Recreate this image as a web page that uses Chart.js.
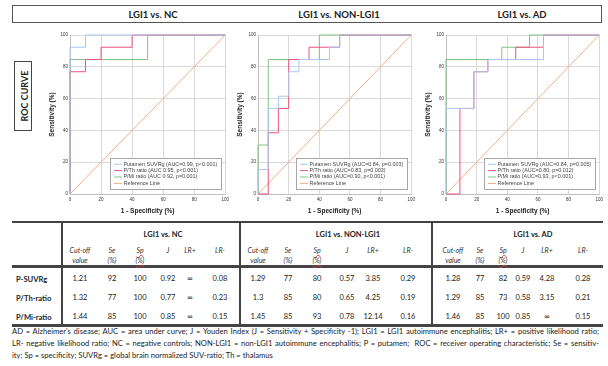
<!DOCTYPE html>
<html>
<head>
<meta charset="utf-8">
<script src="https://cdn.jsdelivr.net/npm/chart.js@4.4.1/dist/chart.umd.min.js"></script>
<style>
  html, body { margin: 0; padding: 0; background: #fff; }
  body { width: 608px; height: 366px; position: relative; overflow: hidden;
         font-family: Lato, "Liberation Sans", sans-serif; color: #222; }
  .abs { position: absolute; white-space: nowrap; }
  .head-bar { left: 12px; top: 5px; width: 588px; height: 16px; border: 1.5px solid #555; }
  .head { top: 14px; font-weight: bold; font-size: 9.5px; transform: translate(-50%, -50%); }
  .roc-box { left: 14px; top: 61px; width: 16px; height: 68px; border: 1.5px solid #444; }
  .roc-text { left: 23.5px; top: 96px; font-weight: bold; font-size: 9px;
              transform: translate(-50%, -50%) rotate(-90deg); }
  canvas.roc { position: absolute; top: 28px; }
  .cell { transform: translate(-50%, -50%); font-size: 7.5px; line-height: 1; }
  .grp { font-weight: bold; }
  .sub { font-style: italic; color: #333; font-size: 7px; }
  .wavy { text-decoration: underline wavy #d04040; text-decoration-thickness: 0.5px; }
  .rowlab { font-weight: bold; font-size: 7.6px; transform: translateY(-50%); left: 16px; }
  .hline { background: #444; left: 12px; width: 591px; }
  .vline { background: #444; width: 1.5px; top: 222px; height: 104px; }
  .foot { left: 12px; width: 587px; font-size: 7.6px; line-height: 1; color: #222;
          text-align: justify; text-align-last: justify; }
  .foot.last { text-align: left; text-align-last: left; }
</style>
</head>
<body>
<div class="abs head-bar"></div>
<div class="abs head" style="left:153px">LGI1 vs. NC</div>
<div class="abs head" style="left:339px">LGI1 vs. NON-LGI1</div>
<div class="abs head" style="left:522px">LGI1 vs. AD</div>
<div class="abs roc-box"></div>
<div class="abs roc-text">ROC CURVE</div>

<canvas class="roc" id="rocNc" width="186" height="190" style="left:46px"></canvas>
<canvas class="roc" id="rocNon" width="184" height="190" style="left:234px"></canvas>
<canvas class="roc" id="rocAd" width="184" height="190" style="left:422px"></canvas>

<div id="table"></div>

<div class="abs foot" style="top:328px">AD = Alzheimer's disease; AUC = area under curve; J = Youden Index (J = Sensitivity + Specificity -1); LGI1 = LGI1 autoimmune encephalitis; LR+ = positive likelihood ratio;</div>
<div class="abs foot" style="top:340px">LR- negative likelihood ratio; NC = negative controls; NON-LGI1 = non-LGI1 autoimmune encephalitis; P = putamen;&nbsp; ROC = receiver operating characteristic; Se = sensitiv-</div>
<div class="abs foot last" style="top:352px">ity; Sp = specificity; SUVRg = global brain normalized SUV-ratio; Th = thalamus</div>

<script>
// ROC operating points [1 - specificity %, sensitivity %], drawn as steps
const ncSuvr  = [[0, 0], [0, 92.3], [10, 100], [100, 100]];
const ncPth   = [[0, 0], [0, 76.9], [10, 84.6], [20, 92.3], [40, 100], [100, 100]];
const ncPmi   = [[0, 0], [0, 84.6], [50, 100], [100, 100]];
const nonSuvr = [[0, 0], [0, 15.4], [6.7, 53.8], [13.3, 61.5], [20, 76.9], [26.7, 84.6], [46.7, 92.3], [53.3, 100], [100, 100]];
const nonPth  = [[0, 0], [6.7, 38.5], [13.3, 53.8], [20, 84.6], [33.3, 92.3], [53.3, 100], [100, 100]];
const nonPmi  = [[0, 0], [0, 30.8], [6.7, 84.6], [40, 100], [100, 100]];
const adSuvr  = [[0, 0], [0, 53.8], [18.2, 76.9], [27.3, 84.6], [63.6, 100], [100, 100]];
const adPth   = [[0, 0], [9.1, 53.8], [18.2, 76.9], [27.3, 84.6], [45.5, 92.3], [63.6, 100], [100, 100]];
const adPmi   = [[0, 0], [0, 84.6], [36.4, 92.3], [54.5, 100], [100, 100]];
const refLine = [[0, 0], [100, 100]];
const axisTicks = [0, 20, 40, 60, 80, 100];

const ncLabels  = ["Putamen SUVRg (AUC=0.99, p<0.001)", "P/Th ratio (AUC 0.95, p<0.001)", "P/Mi ratio (AUC 0.92, p=0.001)"];
const nonLabels = ["Putamen SUVRg (AUC=0.84, p=0.003)", "P/Th ratio (AUC=0.83, p=0.003)", "P/Mi ratio (AUC=0.90, p<0.001)"];
const adLabels  = ["Putamen SUVRg (AUC=0.84, p=0.005)", "P/Th ratio (AUC=0.80, p=0.012)", "P/Mi ratio (AUC=0.93, p<0.001)"];

// Table values
const rowLabels = ["P-SUVRg", "P/Th-ratio", "P/Mi-ratio"];
const groupTitles = ["LGI1 vs. NC", "LGI1 vs. NON-LGI1", "LGI1 vs. AD"];
const ncCutoff  = ["1.21", "1.32", "1.44"];
const ncSe      = ["92", "77", "85"];
const ncSp      = ["100", "100", "100"];
const ncJ       = ["0.92", "0.77", "0.85"];
const ncLrPos   = ["∞", "∞", "∞"];
const ncLrNeg   = ["0.08", "0.23", "0.15"];
const nonCutoff = ["1.29", "1.3", "1.45"];
const nonSe     = ["77", "85", "85"];
const nonSp     = ["80", "80", "93"];
const nonJ      = ["0.57", "0.65", "0.78"];
const nonLrPos  = ["3.85", "4.25", "12.14"];
const nonLrNeg  = ["0.29", "0.19", "0.16"];
const adCutoff  = ["1.28", "1.29", "1.46"];
const adSe      = ["77", "85", "85"];
const adSp      = ["82", "73", "100"];
const adJ       = ["0.59", "0.58", "0.85"];
const adLrPos   = ["4.28", "3.15", "∞"];
const adLrNeg   = ["0.28", "0.21", "0.15"];

const lineColors = ["#a8c6ee", "#e8557d", "#84c384"];
const refColor = "#f5ad82";

// legend box drawn inside the plot, bottom right
const insideLegend = {
  id: "insideLegend",
  afterDatasetsDraw(chart) {
    const { ctx, chartArea } = chart;
    const items = chart.data.datasets;
    ctx.save();
    ctx.font = '5.4px "Liberation Sans", Arial, sans-serif';
    const textW = Math.max(...items.map(d => ctx.measureText(d.label).width));
    const rowH = 6.4;
    const w = Math.round(textW + 17), h = Math.round(rowH * items.length + 5);
    const x = Math.round(chartArea.right - 4 - w), y = Math.round(chartArea.bottom - 5 - h);
    ctx.fillStyle = "#fff";
    ctx.fillRect(x, y, w, h);
    ctx.strokeStyle = "#a6a6a6";
    ctx.lineWidth = 1;
    ctx.strokeRect(x + 0.5, y + 0.5, w, h);
    items.forEach((d, i) => {
      const cy = y + 3 + rowH * (i + 0.5);
      ctx.strokeStyle = d.borderColor;
      ctx.beginPath();
      ctx.moveTo(x + 4, cy);
      ctx.lineTo(x + 12, cy);
      ctx.stroke();
      ctx.fillStyle = "#444";
      ctx.textBaseline = "middle";
      ctx.fillText(d.label, x + 13.5, cy);
    });
    ctx.restore();
  }
};

function axis(titleText) {
  return {
    type: "linear",
    min: 0,
    max: 100,
    afterBuildTicks: s => { s.ticks = axisTicks.map(v => ({ value: v })); },
    grid: { color: "#d9d9d9", drawTicks: false },
    border: { color: "#bfbfbf" },
    ticks: { font: { size: 4.5, family: "Liberation Sans" }, color: "#333", padding: 2 },
    title: { display: true, text: titleText, color: "#222",
             font: { size: 6.5, weight: "bold", family: "Liberation Sans" },
             padding: { top: 2, bottom: 3 } }
  };
}

function makeRoc(id, curves, labels) {
  // vertical rise happens at the new x: go across first, then up
  const datasets = curves.map((pts, i) => ({
    label: labels[i],
    data: pts.map(p => ({ x: p[0], y: p[1] })),
    borderColor: lineColors[i],
    borderWidth: 1,
    showLine: true,
    stepped: "before",
    pointRadius: 0,
    clip: 2
  }));
  datasets.push({
    label: "Reference Line",
    data: refLine.map(p => ({ x: p[0], y: p[1] })),
    borderColor: refColor,
    borderWidth: 1,
    showLine: true,
    pointRadius: 0
  });

  const xAxis = axis("1 - Specificity (%)");
  xAxis.afterFit = s => { s.height = 24; };
  xAxis.ticks.padding = 3;
  const yAxis = axis("Sensitivity (%)");
  yAxis.afterFit = s => { s.width = 24; };

  new Chart(document.getElementById(id), {
    type: "scatter",
    data: { datasets },
    options: {
      responsive: false,
      animation: false,
      events: [],
      layout: { padding: { top: 7, right: 3, left: 0, bottom: 0 } },
      plugins: { legend: { display: false }, tooltip: { enabled: false } },
      scales: { x: xAxis, y: yAxis }
    },
    plugins: [insideLegend]
  });
}

makeRoc("rocNc", [ncSuvr, ncPth, ncPmi], ncLabels);
makeRoc("rocNon", [nonSuvr, nonPth, nonPmi], nonLabels);
makeRoc("rocAd", [adSuvr, adPth, adPmi], adLabels);

// table
const table = document.getElementById("table");
function put(cls, text, x, y, html) {
  const d = document.createElement("div");
  d.className = "abs " + cls;
  d.style.left = x + "px";
  d.style.top = y + "px";
  if (html) d.innerHTML = text; else d.textContent = text;
  table.appendChild(d);
  return d;
}
function line(cls, style) {
  const d = document.createElement("div");
  d.className = "abs " + cls;
  Object.assign(d.style, style);
  table.appendChild(d);
}

line("hline", { top: "221px", height: "2px" });
line("hline", { top: "265px", height: "2.5px" });
line("hline", { top: "324px", height: "2.5px" });
[61, 239, 431].forEach(x => line("vline", { left: x + "px" }));

const groups = [
  { cols: [80, 112, 140, 168, 190, 220], title: 163, vals: [ncCutoff, ncSe, ncSp, ncJ, ncLrPos, ncLrNeg] },
  { cols: [258, 288, 317, 347, 373, 408], title: 348, vals: [nonCutoff, nonSe, nonSp, nonJ, nonLrPos, nonLrNeg] },
  { cols: [453, 480, 503, 523, 547, 583], title: 533, vals: [adCutoff, adSe, adSp, adJ, adLrPos, adLrNeg] }
];
const subTop = ["Cut-off", "Se", '<span class="wavy">Sp</span>', "J", "LR+", "LR-"];
const subBottom = ["value", "(%)", '<span class="wavy">(%)</span>', "", "", ""];
const rowY = [279, 298, 317];

groups.forEach((g, gi) => {
  put("cell grp", groupTitles[gi], g.title, 235);
  g.cols.forEach((cx, ci) => {
    put("cell sub", subTop[ci], cx, 250, true);
    if (subBottom[ci]) put("cell sub", subBottom[ci], cx, 260, true);
    g.vals[ci].forEach((v, ri) => put("cell", v, cx, rowY[ri]));
  });
});
rowLabels.forEach((r, ri) => put("rowlab", r, 16, rowY[ri]));
</script>
</body>
</html>
